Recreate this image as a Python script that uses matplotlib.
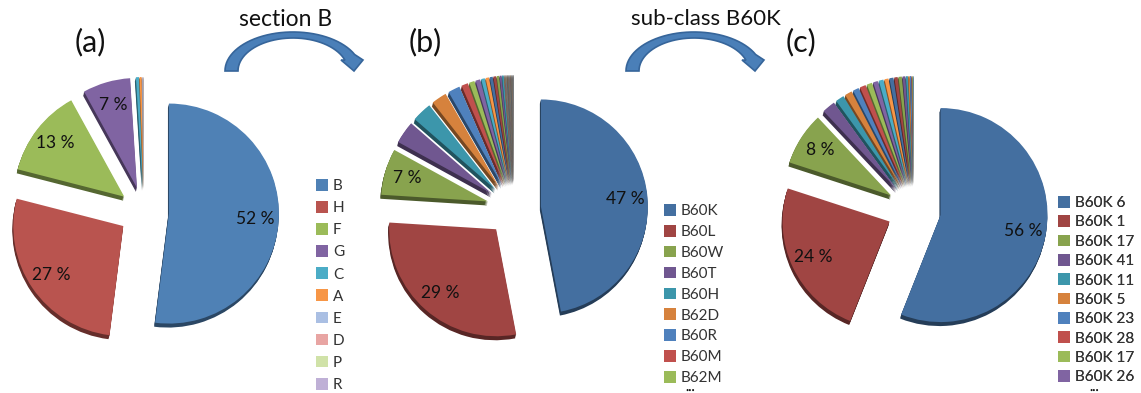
import matplotlib
matplotlib.use("Agg")
import matplotlib.pyplot as plt
import numpy as np
from matplotlib.colors import to_rgb
from matplotlib.patches import Polygon

plt.rcParams['font.family'] = ['Lato', 'DejaVu Sans']

W, H = 1141, 393

# Share of patents per class, largest first
section_labels = ['B', 'H', 'F', 'G', 'C', 'A', 'E', 'D', 'P', 'R']
section_values = [52, 27, 13, 7, 0.45, 0.3, 0.1, 0.05, 0.05, 0.05]

class_labels = ['B60K', 'B60L', 'B60W', 'B60T', 'B60H', 'B62D', 'B60R', 'B60M', 'B62M']
class_values = [47, 29, 7, 3.4, 3.0, 2.3, 1.8, 1.0, 0.8, 0.7, 0.55, 0.5, 0.45, 0.4, 0.35,
                0.3, 0.25, 0.06, 0.05, 0.05, 0.05, 0.05, 0.04, 0.04, 0.04, 0.04, 0.04,
                0.04, 0.04, 0.04, 0.03, 0.03, 0.03, 0.03, 0.03, 0.03, 0.03, 0.03, 0.03,
                0.03, 0.03, 0.03, 0.02, 0.02, 0.02, 0.02, 0.02, 0.02, 0.02, 0.02, 0.02,
                0.02, 0.02, 0.02, 0.02]

subclass_labels = ['B60K 6', 'B60K 1', 'B60K 17', 'B60K 41', 'B60K 11', 'B60K 5',
                   'B60K 23', 'B60K 28', 'B60K 17', 'B60K 26']
subclass_values = [56, 24, 8, 2.0, 1.3, 1.1, 0.9, 0.9, 0.8, 0.7, 0.7, 0.6, 0.6, 0.5, 0.5,
                   0.4, 0.3, 0.2, 0.2, 0.1, 0.1, 0.05, 0.05]

palette_a = ['#4f81b5', '#b9544f', '#9bbb59', '#8064a2', '#4bacc6', '#f79646',
             '#aabfe3', '#e8a5a3', '#d0e2a8', '#bfb0d6']
palette_dark = ['#446fa0', '#a04543', '#88a34e', '#705790', '#3c96ab', '#d6823d',
                '#4f81bd', '#c0504d', '#9bbb59', '#8064a2', '#4bacc6', '#f79646']


def darker(color, f=0.55):
    return tuple(c * f for c in to_rgb(color))


def cycle(colors, n):
    return [colors[i % len(colors)] for i in range(n)]


def draw_pie(ax, values, colors, cx, cy, radius, explode):
    cy = H - cy
    blow = [explode] * len(values)
    # extruded side, stacked below the top face
    for d in (4, 3, 2, 1):
        ax.pie(values, colors=[darker(c) for c in colors], startangle=90, counterclock=False,
               center=(cx - 0.25 * d, cy - d), radius=radius, explode=blow,
               wedgeprops={'linewidth': 0})
    wedges, _, pct = ax.pie(values, colors=colors, startangle=90, counterclock=False,
                            center=(cx, cy), radius=radius, explode=blow,
                            autopct=lambda p: f'{round(p)} %' if p >= 5 else '',
                            pctdistance=0.79, wedgeprops={'linewidth': 0},
                            textprops={'fontsize': 12.5, 'color': '#111111'})
    return wedges


def draw_legend(ax, handles, labels, x, y, spacing):
    leg = ax.legend(handles, labels, loc='upper left', bbox_to_anchor=(x, H - y),
                    bbox_transform=ax.transData, frameon=False, borderpad=0, borderaxespad=0,
                    fontsize=11, labelspacing=spacing, handlelength=0.8, handleheight=0.8,
                    handletextpad=0.3, labelcolor='#333333')
    ax.add_artist(leg)


def curved_arrow(ax, dx):
    # crescent shaft: outer and inner elliptical edges, closed by the head
    t_out = np.radians(np.linspace(180, 25, 40))
    t_in = np.radians(np.linspace(19, 180, 40))
    outer = np.column_stack([293 + 68 * np.cos(t_out), 71 - 39 * np.sin(t_out)])
    inner = np.column_stack([293 + 55 * np.cos(t_in), 71 - 33 * np.sin(t_in)])
    head = np.array([[363, 60], [354, 71], [341, 60]])
    pts = np.vstack([outer, head, inner])
    pts[:, 0] += dx
    pts[:, 1] = H - pts[:, 1]
    ax.add_patch(Polygon(pts, closed=True, facecolor='#4a7fb8', edgecolor='#36659a',
                         linewidth=1.2))


fig = plt.figure(figsize=(W / 100, H / 100), dpi=100)
ax = fig.add_axes([0, 0, 1, 1])

wa = draw_pie(ax, section_values, palette_a, 144, 212, 110, 25)
wb = draw_pie(ax, class_values, cycle(palette_dark, len(class_values)), 514, 209, 107, 27)
wc = draw_pie(ax, subclass_values, cycle(palette_dark, len(subclass_values)), 914, 210, 107, 27)

draw_legend(ax, wa[:10], section_labels, 316, 179, 0.52)
draw_legend(ax, wb[:9], class_labels, 664, 204, 0.44)
draw_legend(ax, wc[:10], subclass_labels, 1058, 196, 0.34)

curved_arrow(ax, 0)
curved_arrow(ax, 401)

for s, x, y, size in [('(a)', 90, 42, 22), ('(b)', 425, 42, 22), ('(c)', 801, 42, 22),
                      ('section B', 286, 19, 16.5), ('sub-class B60K', 706, 19, 16)]:
    ax.text(x, H - y, s, ha='center', va='center', fontsize=size, color='#111111')

for x, y in [(690, 390), (1094, 390)]:
    ax.text(x, H - y, '•••', ha='center', va='center', fontsize=4, color='#111111')

ax.set_aspect('equal')
ax.set_xlim(0, W)
ax.set_ylim(0, H)
ax.axis('off')

fig.savefig('out.png', dpi=100)
